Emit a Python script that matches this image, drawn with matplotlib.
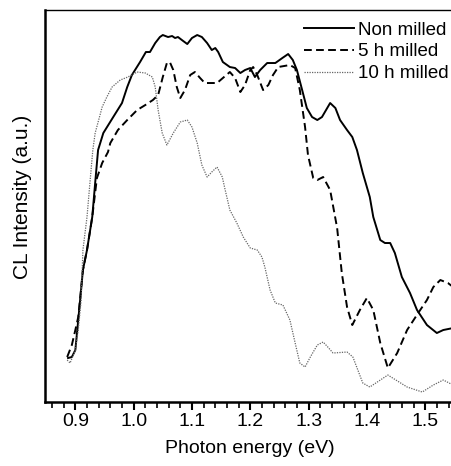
import matplotlib
matplotlib.use("Agg")
import matplotlib.pyplot as plt
from matplotlib.ticker import MultipleLocator

plt.rcParams['font.family'] = ['Liberation Sans', 'DejaVu Sans']

# Non milled
e_non = [0.8875, 0.894, 0.900, 0.905, 0.913, 0.920, 0.929, 0.934, 0.939, 0.948, 0.965, 0.980,
         0.989, 0.997, 1.011, 1.021, 1.028, 1.037, 1.045, 1.050, 1.059, 1.066, 1.071, 1.076,
         1.085, 1.092, 1.100, 1.109, 1.117, 1.126, 1.134, 1.140, 1.145, 1.153, 1.165, 1.174,
         1.183, 1.191, 1.200, 1.208, 1.217, 1.229, 1.243, 1.255, 1.265, 1.273, 1.280, 1.289,
         1.297, 1.306, 1.315, 1.323, 1.332, 1.337, 1.346, 1.354, 1.366, 1.375, 1.383, 1.393,
         1.405, 1.411, 1.423, 1.431, 1.440, 1.448, 1.460, 1.474, 1.486, 1.503, 1.520, 1.531, 1.548]
i_non = [44, 45, 52, 82, 132, 152, 185, 219, 252, 269, 285, 299,
         315, 327, 340, 350, 350, 359, 365, 367, 365, 366, 364, 365,
         361, 358, 364, 367, 365, 359, 352, 354, 350, 340, 335, 334,
         329, 332, 334, 325, 332, 339, 339, 344, 348, 342, 332, 312,
         294, 285, 282, 285, 294, 299, 294, 282, 272, 265, 252, 229,
         205, 185, 162, 159, 159, 149, 125, 109, 92, 77, 69, 72, 74]

# 5 h milled
e_5h = [0.886, 0.894, 0.900, 0.905, 0.908, 0.913, 0.920, 0.929, 0.937, 0.946, 0.956, 0.960,
        0.973, 0.989, 1.006, 1.020, 1.033, 1.042, 1.050, 1.057, 1.062, 1.068, 1.074, 1.080,
        1.088, 1.097, 1.105, 1.114, 1.122, 1.143, 1.153, 1.165, 1.174, 1.183, 1.191, 1.200,
        1.205, 1.212, 1.222, 1.231, 1.239, 1.248, 1.268, 1.277, 1.285, 1.294, 1.299, 1.308,
        1.315, 1.325, 1.337, 1.349, 1.357, 1.366, 1.375, 1.388, 1.400, 1.411, 1.423, 1.436,
        1.452, 1.469, 1.488, 1.503, 1.514, 1.526, 1.539, 1.548]
i_5h = [45, 57, 72, 85, 102, 132, 152, 185, 224, 239, 250, 259,
        272, 282, 292, 297, 302, 307, 325, 339, 340, 332, 315, 304,
        312, 327, 330, 324, 319, 319, 324, 330, 324, 310, 317, 332,
        335, 327, 312, 317, 327, 335, 337, 334, 312, 275, 247, 224,
        222, 225, 212, 174, 129, 95, 77, 92, 104, 92, 59, 34,
        49, 72, 89, 102, 115, 122, 119, 115]

# 10 h milled
e_10h = [0.886, 0.891, 0.900, 0.905, 0.910, 0.913, 0.920, 0.925, 0.930, 0.934, 0.946, 0.954,
         0.963, 0.977, 0.990, 1.006, 1.020, 1.032, 1.037, 1.042, 1.049, 1.057, 1.068, 1.080,
         1.092, 1.100, 1.109, 1.117, 1.126, 1.134, 1.143, 1.152, 1.157, 1.165, 1.177, 1.188,
         1.200, 1.212, 1.220, 1.225, 1.234, 1.243, 1.256, 1.268, 1.277, 1.285, 1.294, 1.303,
         1.315, 1.325, 1.333, 1.342, 1.366, 1.376, 1.393, 1.405, 1.436, 1.469, 1.495, 1.514,
         1.531, 1.548]
i_10h = [42, 39, 52, 72, 102, 152, 185, 219, 252, 269, 295, 305,
         315, 322, 325, 330, 329, 325, 315, 292, 269, 257, 269, 280,
         282, 275, 259, 237, 225, 230, 235, 225, 212, 192, 179, 165,
         154, 152, 145, 135, 112, 99, 97, 82, 59, 39, 35, 45,
         57, 60, 55, 49, 50, 45, 19, 15, 27, 15, 10, 17,
         22, 17]

labels = ['Non milled', '5 h milled', '10 h milled']

fig = plt.figure(figsize=(4.52, 4.66), dpi=100)
ax = fig.add_axes([0.0996, 0.1373, 0.9004, 0.8412])

ax.plot(e_non, i_non, color='black', lw=1.4, label=labels[0])
ax.plot(e_5h, i_5h, color='black', lw=1.4, ls=(0, (4, 2.2)), label=labels[1])
ax.plot(e_10h, i_10h, color='#666666', lw=0.9, ls=(0, (1, 1)), label=labels[2])

ax.set_xlim(0.848, 1.546)
ax.set_ylim(0, 392)
ax.xaxis.set_major_locator(MultipleLocator(0.1))
ax.xaxis.set_minor_locator(MultipleLocator(0.02))
ax.tick_params(axis='x', which='major', direction='out', length=6, width=1.5, labelsize=14, pad=2)
ax.tick_params(axis='x', which='minor', direction='out', length=4, width=1.2)
ax.set_yticks([])

ax.spines['left'].set_linewidth(1.8)
ax.spines['bottom'].set_linewidth(1.8)
ax.spines['top'].set_linewidth(1.0)
ax.spines['right'].set_visible(False)

ax.set_xlabel('Photon energy (eV)', fontsize=14, va='top')
ax.xaxis.set_label_coords(0.504, -0.097)
ax.set_ylabel('CL Intensity (a.u.)', fontsize=15)
ax.yaxis.set_label_coords(-0.032, 0.523)

ax.legend(loc='upper right', bbox_to_anchor=(1.01, 0.99), frameon=False, fontsize=13.5,
          handlelength=2.7, handletextpad=0.2, labelspacing=0.25, borderaxespad=0.0)

fig.savefig('out.png', dpi=100)
